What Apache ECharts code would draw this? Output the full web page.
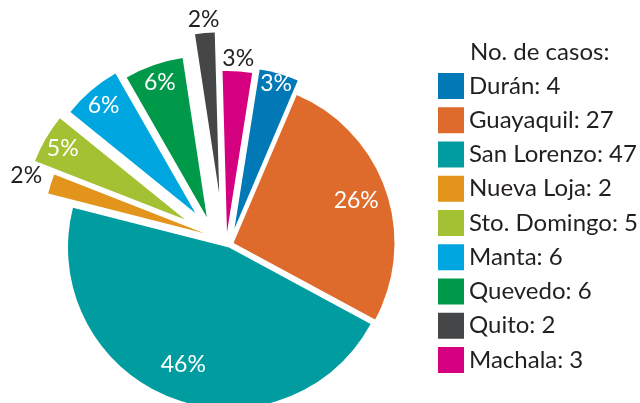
<!DOCTYPE html>
<html><head><meta charset="utf-8">
<script src="https://cdn.jsdelivr.net/npm/echarts@6/dist/echarts.min.js"></script>
<style>html,body{margin:0;padding:0;background:#fff}#c{width:640px;height:403px}</style>
</head><body><div id="c"></div>
<script>
// ---- data ----
const categories = ['Durán','Guayaquil','San Lorenzo','Nueva Loja','Sto. Domingo','Manta','Quevedo','Quito','Machala'];
const cases = [4, 27, 47, 2, 5, 6, 6, 2, 3];
const pctLabels = ['3%','26%','46%','2%','5%','6%','6%','2%','3%'];
const legendTitle = 'No. de casos:';

// ---- style / layout ----
const colors = ['#0079b6','#de6b2b','#009c9f','#e2951a','#a3c133','#00a6df','#009949','#444648','#d4007f'];
const baseCenter = [229, 247.5];
const R = 161;
const sliceShift = [[5.5,-19],[4.5,-4.5],[0,0],[-24.8,-14.3],[-44,-28],[-33.5,-34.2],[-22.2,-30.3],[-9.8,-54.1],[-2,-15.5]];
const labelDist = [147.5,127,122.5,184,138.5,138.7,139.4,171.6,170.5];
const labelOutside = [false,false,false,true,false,false,false,true,true];
const FONT = 'Lato';
const TXT = '#231f20';

const chart = echarts.init(document.getElementById('c'), null, {renderer:'canvas'});
const series = [];
categories.forEach((name, i) => {
  const c = [baseCenter[0] + sliceShift[i][0], baseCenter[1] + sliceShift[i][1]];
  const common = {
    type: 'pie', center: c, startAngle: 81, clockwise: true, silent: true,
    animation: false, avoidLabelOverlap: false, minAngle: 0, minShowLabelAngle: 0,
    emphasis: {disabled: true}, labelLine: {show: false}
  };
  series.push(Object.assign({}, common, {
    radius: [0, R],
    label: {show: false},
    data: categories.map((n, j) => ({name: n, value: cases[j],
      itemStyle: {color: j === i ? colors[i] : 'rgba(0,0,0,0)'}}))
  }));
  series.push(Object.assign({}, common, {
    radius: [labelDist[i] - 4, labelDist[i] + 4],
    label: {show: false, position: 'inside', formatter: p => pctLabels[p.dataIndex],
      color: labelOutside[i] ? TXT : '#ffffff', fontFamily: FONT, fontSize: 23},
    data: categories.map((n, j) => ({name: n, value: cases[j],
      itemStyle: {color: 'rgba(0,0,0,0)'}, label: {show: j === i}}))
  }));
});

chart.setOption({
  backgroundColor: '#ffffff',
  animation: false,
  title: {text: legendTitle, left: 470, top: 40, padding: 0,
    textStyle: {fontFamily: FONT, fontSize: 24, fontWeight: 'normal', color: TXT}},
  legend: {
    orient: 'vertical', left: 438, top: 73, padding: 0,
    itemWidth: 26, itemHeight: 26, itemGap: 8.25, icon: 'rect', selectedMode: false,
    textStyle: {fontFamily: FONT, fontSize: 24, color: TXT},
    formatter: n => n + ': ' + cases[categories.indexOf(n)],
    data: categories.map((n, i) => ({name: n, icon: 'rect', itemStyle: {color: colors[i], opacity: 1, borderWidth: 0}}))
  },
  series: series
});
</script>
</body></html>
